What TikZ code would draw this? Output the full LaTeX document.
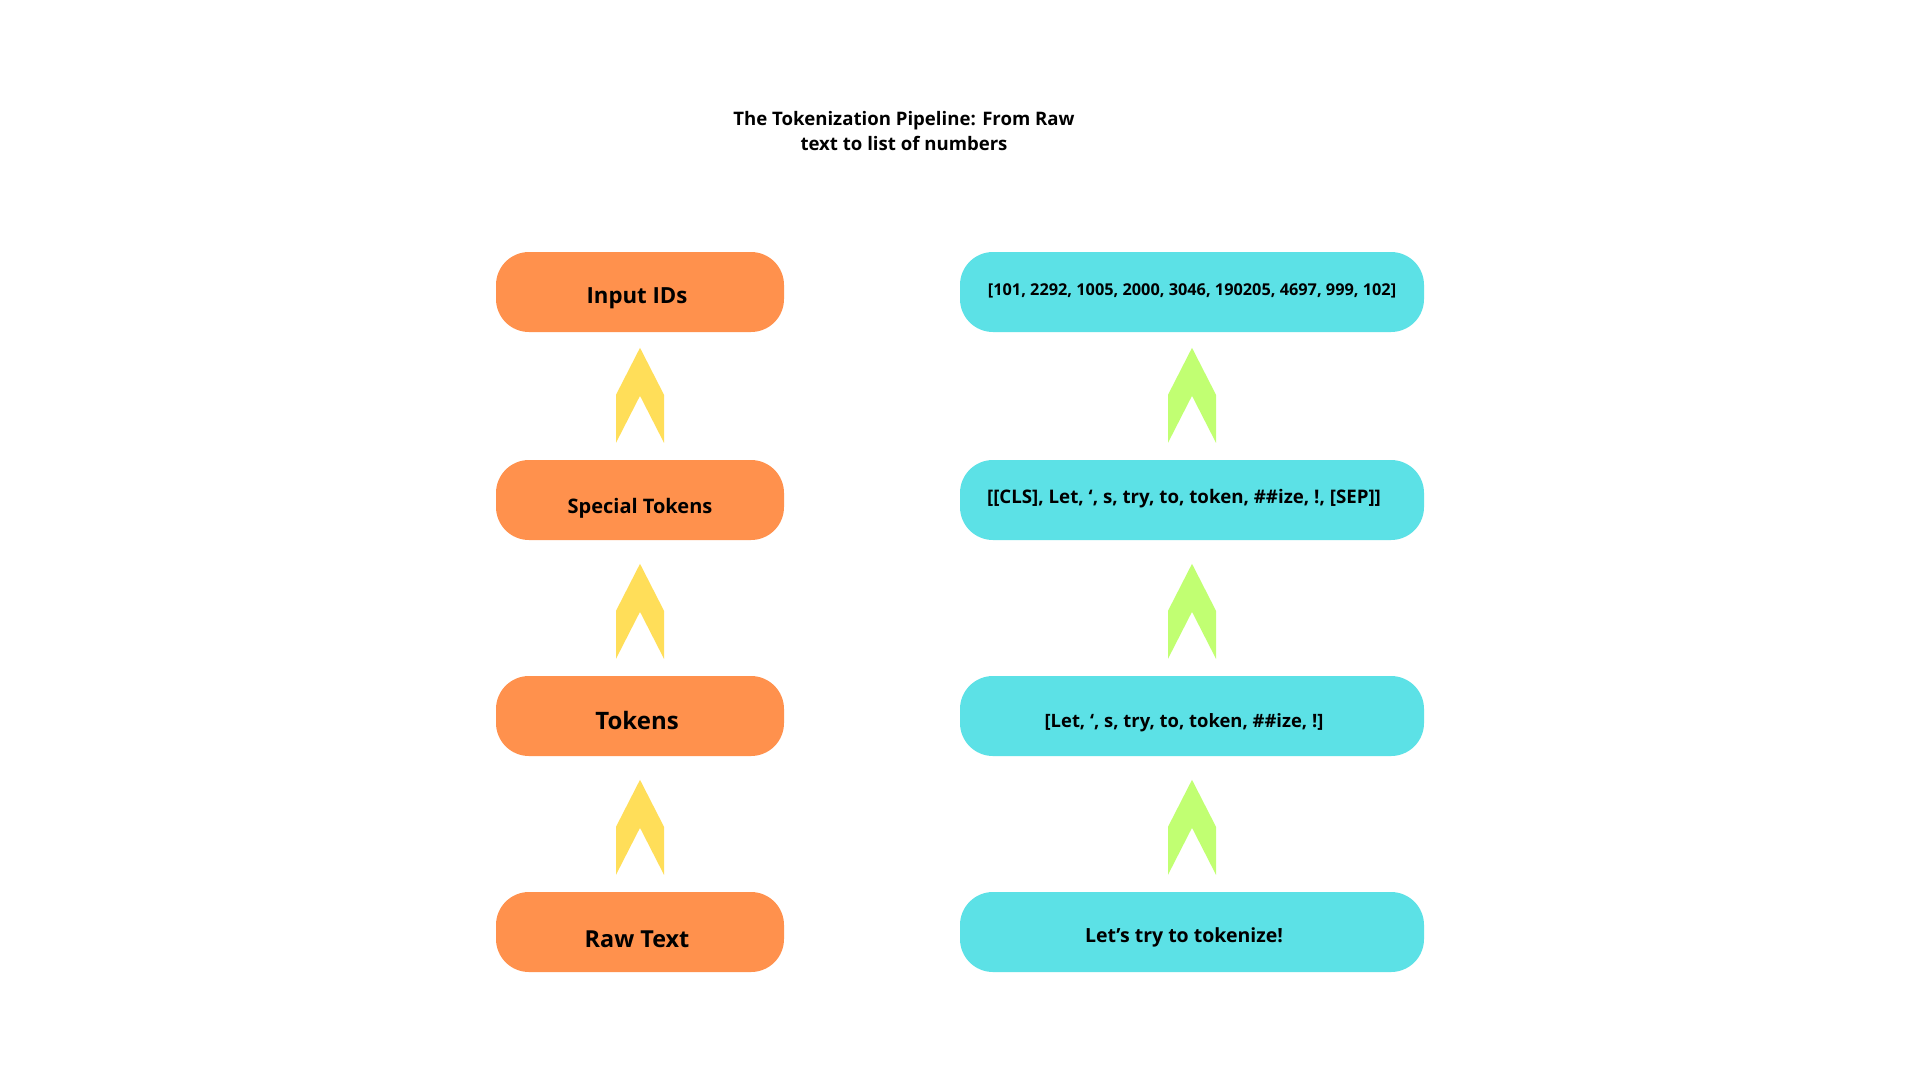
\documentclass[tikz,border=0pt]{standalone}
\usepackage{fontspec}
\setmainfont{Open Sans}
\usetikzlibrary{
  positioning,
}

\definecolor{boxorange}{HTML}{FF914D}
\definecolor{boxcyan}{HTML}{5CE1E6}
\definecolor{arryellow}{HTML}{FFDE59}
\definecolor{arrgreen}{HTML}{C1FF72}

\tikzset{
  stage/.style={fill=boxorange, rounded corners=33pt, minimum width=288pt,
    minimum height=80pt, inner sep=0pt},
  sample/.style={stage, fill=boxcyan, minimum width=464pt},
  tag/.style={inner sep=0pt, font=\bfseries\fontsize{#1}{#1}\selectfont},
  chevron/.style={draw=none},
}

\begin{document}
\begin{tikzpicture}[x=1pt,y=-1pt]
\useasboundingbox[fill=white] (0,0) rectangle (1920,1080);

\node[align=center, font=\bfseries\fontsize{18.6}{25}\selectfont] (title) at (904,131)
  {The Tokenization Pipeline: From Raw\\text to list of numbers};

% left column
\node[stage] (ids) at (640,292) {};
\node[stage] (special) at (640,500) {};
\node[stage] (tokens) at (640,716) {};
\node[stage] (raw) at (640,932) {};
\node[tag=22.2] (idstxt) at ([shift={(-3,6)}]ids) {Input IDs};
\node[tag=20] (specialtxt) at ([shift={(0,8)}]special) {Special Tokens};
\node[tag=24] (tokenstxt) at ([shift={(-3,4)}]tokens) {Tokens};
\node[tag=23.4] (rawtxt) at ([shift={(-3,7)}]raw) {Raw Text};

% right column
\node[sample] (idsx) at (1192,292) {};
\node[sample] (specialx) at (1192,500) {};
\node[sample] (tokensx) at (1192,716) {};
\node[sample] (rawx) at (1192,932) {};
\node[tag=16.3] (idsxtxt) at ([shift={(0,-1)}]idsx)
  {[101, 2292, 1005, 2000, 3046, 190205, 4697, 999, 102]};
\node[tag=18.7] (specialxtxt) at ([shift={(-8,-1)}]specialx)
  {[[CLS], Let, ‘, s, try, to, token, \#\#ize, !, [SEP]]};
\node[tag=18.4] (tokensxtxt) at ([shift={(-8,7)}]tokensx)
  {[Let, ‘, s, try, to, token, \#\#ize, !]};
\node[tag=19.5] (rawxtxt) at ([shift={(-8,5)}]rawx)
  {Let’s try to tokenize!};

% chevron arrows, drawn up from the lower box
\foreach \lo/\col in {raw/arryellow,tokens/arryellow,special/arryellow,
  rawx/arrgreen,tokensx/arrgreen,specialx/arrgreen}
  \fill[chevron, fill=\col] ([yshift=17pt]\lo.north) ++(-24,0) -- ++(0,-48)
    -- ++(24,-47) -- ++(24,47) -- ++(0,48) -- ++(-24,-47) -- cycle;
\end{tikzpicture}
\end{document}
